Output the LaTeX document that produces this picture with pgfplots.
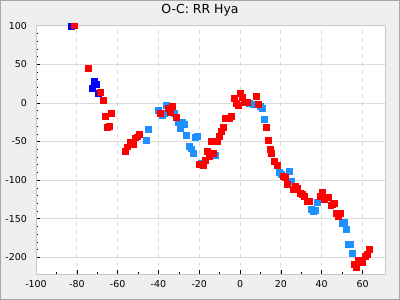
\documentclass[border=0pt]{standalone}
\usepackage{fontspec}
\setmainfont{DejaVu Sans}
\usepackage{pgfplots}
\pgfplotsset{compat=1.18}
\definecolor{bgc}{RGB}{239,239,239}
\definecolor{dblue}{RGB}{30,144,255}
\definecolor{gridc}{RGB}{218,218,218}
\definecolor{framec}{RGB}{200,200,200}
\begin{document}
\begin{tikzpicture}
\fill[bgc] (-36bp,-25.7bp) rectangle (364bp,274.3bp);
\draw[gray!70, line width=0.8bp] (-35.6bp,-25.3bp) rectangle (363.6bp,273.9bp);
\useasboundingbox (-36bp,-25.7bp) rectangle (364bp,274.3bp);
\node[font=\fontsize{12.5}{14}\selectfont] at (164bp,264bp) {O-C: RR Hya};
\begin{axis}[
  scale only axis,
  width=349bp, height=249.3bp,
  xmin=-100, xmax=71, ymin=-222, ymax=101,
  axis background/.style={fill=white},
  axis line style={framec},
  xtick={-100,-80,...,60},
  ytick={-200,-150,...,100},
  minor x tick num=1,
  minor y tick num=4,
  tick pos=left,
  tick align=inside,
  major tick length=4.5bp,
  minor tick length=2.5bp,
  tick style={black, line width=0.6bp},
  xmajorgrids, ymajorgrids,
  x grid style={gridc, dash pattern=on 4bp off 4bp, line width=0.9bp},
  y grid style={gridc, line width=0.9bp},
  ticklabel style={font=\fontsize{9.5}{11}\selectfont},
  /pgf/number format/assume math mode=true,
  yticklabel style={xshift=-5.5bp},
  xticklabel style={yshift=-2.4bp},
  clip=true,
]
\addplot[only marks, mark=square*, mark size=2.8bp, mark options={draw=blue, fill=blue, line width=0.3bp}] coordinates {
(-82.9,99.6) (-71.4,28) (-70.5,24) (-72.4,19) (-69.5,12.4)
};
\addplot[only marks, mark=square*, mark size=2.8bp, mark options={draw=dblue, fill=dblue, line width=0.3bp}] coordinates {
(-45,-34.2) (-46,-48.4) (-36.2,-3.1) (-40.1,-9.6) (-38.1,-16.1) (-37.2,-13.5)
(-32.3,-13.5) (-30.3,-25.1) (-28.4,-25.1) (-27.4,-27.7) (-29.3,-32.9) (-26.4,-42)
(-22,-44.6) (-21,-43.3) (-24.9,-56.2) (-23.9,-59.3) (-23,-65.3) (-19,-77.8)
(-12.2,-67.9) (4.5,-0.5) (6.4,-1.8) (9.8,-4.4) (10.8,-7) (11.8,-21.2)
(19.1,-89.9) (20.1,-92.5) (24,-88.6) (25,-101.6) (37.8,-128.8) (34.8,-137.8)
(35.8,-140.4) (36.8,-139.1) (50,-156) (51,-154.7) (52,-163.7) (53,-183.2)
(54,-183.2) (55,-194.8)
};
\addplot[only marks, mark=square*, mark size=2.8bp, mark options={draw=red, fill=red, line width=0.3bp}] coordinates {
(-81.3,100) (-74.4,44.8) (-68.5,13.7) (-67.1,3.4) (-63.1,-13.5) (-66.1,-17.4)
(-64.1,-30.3) (-65.1,-31.6) (-49.4,-40.3) (-50.4,-43.8) (-51.4,-45.1) (-52.4,-53.2)
(-53.4,-52) (-54.1,-51) (-55.3,-56.7) (-56.3,-62.3) (-39.1,-13.5) (-35.2,-7)
(-33.3,-4.4) (-34.2,-12.2) (-31.3,-18.7) (-20,-79.5) (-18.1,-80.8) (-17.1,-74.4)
(-16.1,-62.7) (-14.2,-49.7) (-15.1,-69.2) (-13.2,-65.3) (-11.2,-49.7) (-10.2,-43.3)
(-9.3,-36.8) (-8.3,-31.6) (-7.3,-19.9) (-5.3,-19.9) (-4.4,-17.4) (-2.9,5.9)
(-1.9,-0.6) (-0.9,-3.1) (0.05,12.4) (1.0,7.3) (2.0,0.8) (3.5,0.8) (7.9,8.5)
(8.9,-1.8) (12.8,-31.6) (13.8,-48.4) (14.7,-60) (15.2,-65.3) (16.7,-75.6)
(18.2,-80.8) (21.1,-95.1) (22.1,-96.4) (23.1,-105.4) (27,-108) (26,-111.9)
(28,-110) (29.4,-117.1) (30.4,-118.4) (31.4,-121) (32.9,-127.5) (33.8,-127.5)
(40.2,-115.8) (39.2,-121) (41.2,-124.9) (43.2,-122.3) (44.3,-132.6) (45.3,-131.3)
(46.1,-130) (47.1,-143) (49.1,-143) (48.1,-146.9) (55.9,-209) (56.9,-213)
(57.8,-203.9) (58.8,-205.2) (59.8,-206.5) (61.3,-198.7) (62.2,-196.1) (63.2,-189.6)
};
\end{axis}
\end{tikzpicture}
\end{document}
